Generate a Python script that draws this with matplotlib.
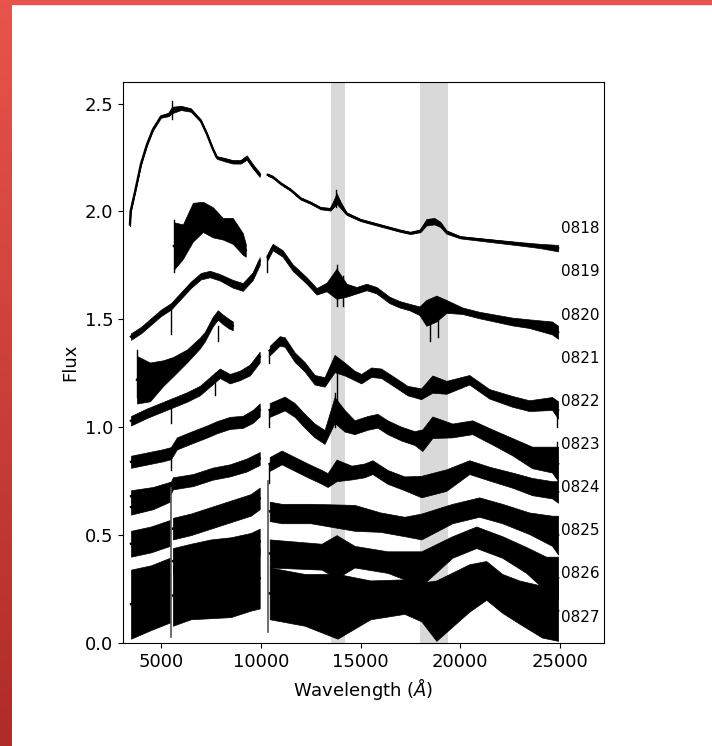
import matplotlib
matplotlib.use('Agg')
import matplotlib.pyplot as plt
import numpy as np
from matplotlib.patches import Rectangle

# spectra: (wavelength in A, flux, half width of the noise)
s0818_opt = [(3450, 1.94, 0.008), (3480, 2.00, 0.006), (3700, 2.09, 0.005), (4000, 2.22, 0.005),
             (4300, 2.31, 0.005), (4600, 2.38, 0.005), (5000, 2.44, 0.006), (5400, 2.45, 0.008),
             (5550, 2.47, 0.015), (6000, 2.48, 0.01), (6500, 2.47, 0.008), (7000, 2.42, 0.006),
             (7300, 2.36, 0.005), (7600, 2.29, 0.005), (7800, 2.25, 0.006), (8200, 2.24, 0.008),
             (8600, 2.23, 0.008), (9000, 2.23, 0.008), (9300, 2.25, 0.01), (9600, 2.21, 0.01),
             (9950, 2.17, 0.01)]
s0818_nir = [(10350, 2.17, 0.005), (10600, 2.16, 0.005), (11000, 2.13, 0.005), (11500, 2.10, 0.005),
             (12000, 2.06, 0.005), (12500, 2.04, 0.005), (13000, 2.015, 0.005), (13500, 2.01, 0.006),
             (13800, 2.06, 0.025), (14000, 2.03, 0.015), (14300, 1.99, 0.006), (15000, 1.96, 0.005),
             (16000, 1.935, 0.005), (17000, 1.91, 0.005), (17500, 1.90, 0.005), (18000, 1.91, 0.006),
             (18300, 1.95, 0.015), (18700, 1.955, 0.015), (19000, 1.94, 0.012), (19300, 1.905, 0.008),
             (20000, 1.88, 0.005), (21000, 1.87, 0.006), (22000, 1.86, 0.007), (23000, 1.85, 0.008),
             (24000, 1.84, 0.01), (24900, 1.83, 0.015)]
s0819_opt = [(5650, 1.84, 0.11), (6100, 1.86, 0.08), (6600, 1.95, 0.09), (7100, 1.975, 0.07),
             (7600, 1.95, 0.07), (8100, 1.92, 0.05), (8600, 1.91, 0.06), (9100, 1.85, 0.05),
             (9250, 1.82, 0.03)]
s0820_opt = [(3500, 1.42, 0.015), (4000, 1.45, 0.015), (4500, 1.49, 0.015), (5000, 1.53, 0.015),
             (5500, 1.56, 0.015), (6000, 1.61, 0.015), (6500, 1.66, 0.015), (7000, 1.70, 0.015),
             (7450, 1.71, 0.015), (7950, 1.695, 0.015), (8600, 1.665, 0.018), (9100, 1.65, 0.018),
             (9600, 1.70, 0.018), (9950, 1.77, 0.018)]
s0820_nir = [(10350, 1.79, 0.015), (10600, 1.835, 0.015), (11100, 1.805, 0.015), (11600, 1.74, 0.015),
             (12300, 1.68, 0.015), (12800, 1.63, 0.015), (13300, 1.65, 0.02), (13800, 1.665, 0.07),
             (14300, 1.635, 0.03), (14800, 1.635, 0.015), (15300, 1.65, 0.015), (15800, 1.635, 0.015),
             (16450, 1.59, 0.015), (16950, 1.57, 0.015), (17450, 1.557, 0.015), (17950, 1.54, 0.02),
             (18300, 1.53, 0.06), (18800, 1.55, 0.06), (19300, 1.56, 0.03), (20100, 1.54, 0.015),
             (20950, 1.52, 0.015), (22600, 1.49, 0.018), (23450, 1.48, 0.02), (24600, 1.46, 0.03),
             (24900, 1.44, 0.03)]
s0821_opt = [(3800, 1.22, 0.11), (4450, 1.21, 0.09), (5100, 1.25, 0.06), (5600, 1.28, 0.045),
             (6300, 1.33, 0.03), (6950, 1.39, 0.025), (7200, 1.42, 0.022), (7600, 1.49, 0.022),
             (7850, 1.52, 0.022), (8100, 1.50, 0.022), (8400, 1.48, 0.022), (8600, 1.47, 0.02)]
s0822_opt = [(3500, 1.03, 0.022), (4300, 1.065, 0.022), (5100, 1.095, 0.022), (5500, 1.11, 0.022),
             (6300, 1.14, 0.022), (6950, 1.17, 0.022), (7450, 1.21, 0.022), (7950, 1.25, 0.022),
             (8450, 1.225, 0.022), (8950, 1.24, 0.022), (9450, 1.265, 0.025), (9950, 1.325, 0.025)]
s0822_nir = [(10450, 1.355, 0.022), (10950, 1.40, 0.022), (11200, 1.395, 0.022), (11700, 1.325, 0.022),
             (12200, 1.28, 0.022), (12700, 1.22, 0.022), (13200, 1.21, 0.022), (13700, 1.295, 0.04),
             (14200, 1.27, 0.03), (14700, 1.24, 0.022), (15035, 1.225, 0.022), (15535, 1.255, 0.022),
             (16035, 1.25, 0.022), (16700, 1.21, 0.022), (17350, 1.17, 0.022), (18035, 1.155, 0.025),
             (18600, 1.20, 0.04), (19300, 1.185, 0.03), (20450, 1.22, 0.022), (21450, 1.155, 0.022),
             (22600, 1.12, 0.025), (23450, 1.10, 0.025), (24600, 1.11, 0.03), (24900, 1.08, 0.04)]
s0823_opt = [(3500, 0.84, 0.028), (4300, 0.855, 0.028), (5100, 0.87, 0.028), (5500, 0.88, 0.028),
             (5800, 0.925, 0.028), (6600, 0.955, 0.028), (7300, 0.98, 0.028), (7800, 1.00, 0.028),
             (8450, 1.02, 0.028), (9100, 1.025, 0.028), (9600, 1.05, 0.03), (9950, 1.08, 0.03)]
s0823_nir = [(10450, 1.08, 0.032), (11200, 1.11, 0.032), (11700, 1.08, 0.032), (12200, 1.03, 0.032),
             (12700, 0.985, 0.032), (13200, 0.955, 0.032), (13700, 1.08, 0.06), (14200, 1.03, 0.05),
             (14700, 1.00, 0.032), (15350, 1.02, 0.032), (15850, 1.03, 0.032), (16350, 1.00, 0.032),
             (17050, 0.97, 0.032), (17700, 0.95, 0.032), (18100, 0.94, 0.05), (18600, 1.00, 0.05),
             (19600, 0.985, 0.032), (20600, 1.00, 0.032), (21600, 0.955, 0.035), (22600, 0.91, 0.04),
             (23600, 0.86, 0.05), (24600, 0.85, 0.06), (24900, 0.83, 0.08)]
s0824_opt = [(3500, 0.68, 0.028), (4600, 0.695, 0.028), (5500, 0.72, 0.028), (5600, 0.74, 0.028),
             (6600, 0.755, 0.028), (7600, 0.785, 0.028), (8450, 0.80, 0.028), (9300, 0.825, 0.03),
             (9950, 0.855, 0.03)]
s0824_nir = [(10450, 0.83, 0.032), (11050, 0.86, 0.032), (11700, 0.83, 0.032), (12350, 0.80, 0.032),
             (13050, 0.77, 0.032), (13350, 0.755, 0.032), (13800, 0.80, 0.05), (14550, 0.79, 0.032),
             (15200, 0.80, 0.032), (15600, 0.815, 0.032), (16350, 0.77, 0.032), (17200, 0.74, 0.032),
             (18050, 0.725, 0.05), (19300, 0.755, 0.05), (20450, 0.815, 0.032), (21450, 0.785, 0.032),
             (22600, 0.755, 0.035), (23600, 0.725, 0.04), (24600, 0.71, 0.04), (24900, 0.70, 0.05)]
s0825_blue = [(3500, 0.63, 0.035), (4600, 0.655, 0.035), (5450, 0.69, 0.035)]
s0825_red = [(5600, 0.53, 0.05), (6500, 0.55, 0.05), (7500, 0.58, 0.05), (8500, 0.61, 0.05),
             (9500, 0.64, 0.05), (9950, 0.67, 0.05)]
s0825_nir = [(10450, 0.61, 0.045), (11050, 0.60, 0.045), (12500, 0.60, 0.045), (14700, 0.58, 0.06),
             (16000, 0.56, 0.045), (17200, 0.54, 0.045), (18050, 0.54, 0.06), (19600, 0.60, 0.045),
             (20950, 0.63, 0.045), (22100, 0.60, 0.045), (23450, 0.555, 0.05), (24600, 0.52, 0.07),
             (24900, 0.50, 0.09)]
s0826_blue = [(3500, 0.46, 0.06), (4500, 0.48, 0.06), (5450, 0.51, 0.06)]
s0826_red = [(5600, 0.38, 0.06), (6500, 0.40, 0.06), (7500, 0.42, 0.06), (8500, 0.43, 0.06),
             (9500, 0.45, 0.06), (9950, 0.47, 0.06)]
s0826_nir = [(10450, 0.415, 0.065), (13050, 0.40, 0.06), (13800, 0.40, 0.1), (14700, 0.40, 0.05),
             (16350, 0.375, 0.05), (18050, 0.345, 0.08), (19600, 0.445, 0.05), (20800, 0.49, 0.05),
             (22100, 0.445, 0.05), (23300, 0.385, 0.06), (24300, 0.32, 0.08), (24900, 0.30, 0.1)]
s0827_blue = [(3500, 0.18, 0.16), (4500, 0.21, 0.15), (5450, 0.245, 0.15)]
s0827_red = [(5600, 0.22, 0.14), (6500, 0.24, 0.13), (7500, 0.245, 0.13), (8500, 0.25, 0.13),
             (9500, 0.28, 0.13), (9950, 0.30, 0.14)]
s0827_nir = [(10450, 0.23, 0.12), (12200, 0.20, 0.12), (13850, 0.17, 0.15), (15500, 0.20, 0.09),
             (17200, 0.215, 0.08), (18050, 0.19, 0.09), (18800, 0.15, 0.14), (20450, 0.255, 0.11),
             (21300, 0.29, 0.09), (22100, 0.23, 0.09), (22950, 0.19, 0.10), (24100, 0.145, 0.12),
             (24900, 0.15, 0.14)]

# sharp features seen as vertical strokes: (wavelength, low flux, high flux)
spikes = [(5550, 2.43, 2.51), (5650, 1.72, 1.96), (5530, 1.43, 1.56), (5530, 1.02, 1.11),
          (5530, 0.80, 0.88), (7700, 1.15, 1.25), (7850, 1.40, 1.47), (3800, 1.14, 1.36),
          (10330, 1.72, 1.80), (10400, 1.30, 1.36), (10400, 1.00, 1.08), (10400, 0.74, 0.83),
          (13750, 2.02, 2.10), (13800, 1.56, 1.75), (14100, 1.56, 1.70), (13700, 1.00, 1.16),
          (13800, 1.08, 1.32), (24850, 1.00, 1.10), (24850, 0.78, 0.93), (18500, 1.40, 1.56),
          (18900, 1.42, 1.56)]
long_lines = [(5530, 0.03, 0.72), (10350, 0.05, 0.75)]

labels = ['0818', '0819', '0820', '0821', '0822', '0823', '0824', '0825', '0826', '0827']
label_y = [1.92, 1.72, 1.52, 1.32, 1.12, 0.92, 0.72, 0.52, 0.32, 0.12]
segments = [s0818_opt, s0818_nir, s0819_opt, s0820_opt, s0820_nir, s0821_opt,
            s0822_opt, s0822_nir, s0823_opt, s0823_nir, s0824_opt, s0824_nir,
            s0825_blue, s0825_red, s0825_nir, s0826_blue, s0826_red, s0826_nir,
            s0827_blue, s0827_red, s0827_nir]
bands = [(13500, 14200), (18000, 19400)]  # telluric regions

fig = plt.figure(figsize=(7.12, 7.46), dpi=100)

# red frame of the slide, left and top
edge = fig.add_axes([0, 0, 12 / 712, 1])
grad = np.linspace(0, 1, 256)[:, None, None]
top_c = np.array([232, 84, 75]) / 255
bot_c = np.array([176, 44, 40]) / 255
edge.imshow(top_c + grad * (bot_c - top_c), aspect='auto')
edge.axis('off')
fig.patches.append(Rectangle((0, 1 - 4 / 746), 1, 4 / 746, transform=fig.transFigure,
                             color='#e8544b', zorder=5))

ax = fig.add_axes([123 / 712, 103 / 746, 481 / 712, 561 / 746])
for lo, hi in bands:
    ax.axvspan(lo, hi, color='#d9d9d9', lw=0, zorder=0)

for seg in segments:
    w = np.array([p[0] for p in seg])
    f = np.array([p[1] for p in seg])
    n = np.array([p[2] for p in seg])
    ax.fill_between(w, f - n, f + n, color='black', lw=0.5, edgecolor='black', zorder=2)
    ax.plot(w, f, color='black', lw=1.7, zorder=3)

for wl, lo, hi in spikes:
    ax.plot([wl, wl], [lo, hi], color='black', lw=1.0, zorder=3)
for wl, lo, hi in long_lines:
    ax.plot([wl, wl], [lo, hi], color='#555555', lw=1.2, zorder=3)

for lab, yy in zip(labels, label_y):
    ax.text(25050, yy, lab, ha='left', va='center', fontsize=11)

ax.set_xlim(3100, 27200)
ax.set_ylim(0, 2.6)
ax.set_xticks([5000, 10000, 15000, 20000, 25000])
ax.set_yticks([0.0, 0.5, 1.0, 1.5, 2.0, 2.5])
ax.tick_params(labelsize=13)
ax.set_xlabel(r'Wavelength ($\AA$)', fontsize=13)
ax.set_ylabel('Flux', fontsize=13)

fig.savefig('out.png', dpi=100)
